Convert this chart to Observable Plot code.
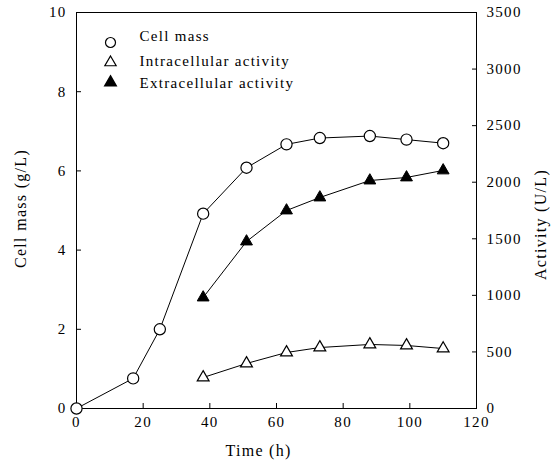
<!DOCTYPE html>
<html>
<head>
<meta charset="utf-8">
<script src="https://cdn.jsdelivr.net/npm/d3@7"></script>
<script src="https://cdn.jsdelivr.net/npm/@observablehq/plot@0.6"></script>
<style>
  html, body { margin: 0; padding: 0; background: white; }
</style>
</head>
<body>
<div id="chart"></div>
<script>
// Data
const time = [0, 17, 25, 38, 51, 63, 73, 88, 99, 110];
const cellMass = [0, 0.76, 2.0, 4.92, 6.08, 6.67, 6.83, 6.88, 6.79, 6.70]; // g/L
const actTime = [38, 51, 63, 73, 88, 99, 110];
const intraAct = [274, 398, 495, 539, 566, 557, 530];      // U/L
const extraAct = [981, 1476, 1750, 1865, 2015, 2042, 2104]; // U/L
const xTicks = [0, 20, 40, 60, 80, 100, 120];
const leftTicks = [0, 2, 4, 6, 8, 10];
const rightTicks = [0, 500, 1000, 1500, 2000, 2500, 3000, 3500];
const legendLabels = ["Cell mass", "Intracellular activity", "Extracellular activity"];

const actMax = 3500, massMax = 10;
const k = actMax / massMax; // activity units per cell-mass unit

const massData = time.map((t, i) => ({t, v: cellMass[i]}));
const intraData = actTime.map((t, i) => ({t, v: intraAct[i] / k}));
const extraData = actTime.map((t, i) => ({t, v: extraAct[i] / k}));

const font = "'Liberation Serif', 'DejaVu Serif', serif";
const rowGap = 20;
const legendTop = 30;

const chart = Plot.plot({
  width: 553,
  height: 463,
  marginLeft: 76,
  marginRight: 77,
  marginTop: 12,
  marginBottom: 55,
  style: {fontFamily: font, fontSize: "15px", background: "white", color: "black", letterSpacing: "1.3px"},
  x: {domain: [0, 120]},
  y: {domain: [0, 10]},
  marks: [
    Plot.frame({stroke: "black", strokeWidth: 1}),
    Plot.axisX({ticks: xTicks, tickSize: 5, dy: -5, tickPadding: 8, label: null, tickFormat: d => String(d)}),
    Plot.axisY({anchor: "left", ticks: leftTicks, tickSize: 5, dx: 5, tickPadding: 10, label: null, tickFormat: d => String(d)}),
    Plot.axisY(rightTicks.map(v => v / k), {anchor: "right", tickSize: 5, dx: -5, tickPadding: 10, label: null, tickFormat: d => String(Math.round(d * k))}),
    Plot.text(["Cell mass (g/L)"], {frameAnchor: "left", rotate: -90, dx: -56, dy: -2, textAnchor: "middle", lineAnchor: "middle", fontSize: 16}),
    Plot.text(["Activity (U/L)"], {frameAnchor: "right", rotate: -90, dx: 64, dy: 14, textAnchor: "middle", lineAnchor: "middle", fontSize: 16}),
    Plot.text(["Time (h)"], {frameAnchor: "bottom", dx: -18, dy: 42, textAnchor: "middle", lineAnchor: "middle", fontSize: 16}),
    // lines
    Plot.line(massData, {x: "t", y: "v", stroke: "black", strokeWidth: 1}),
    Plot.line(intraData, {x: "t", y: "v", stroke: "black", strokeWidth: 1}),
    Plot.line(extraData, {x: "t", y: "v", stroke: "black", strokeWidth: 1}),
    // points
    Plot.dot(massData, {x: "t", y: "v", r: 5.6, symbol: "circle", fill: "white", stroke: "black", strokeWidth: 1.2}),
    Plot.dot(intraData, {x: "t", y: "v", r: 4.4, symbol: "triangle", fill: "white", stroke: "black", strokeWidth: 1.2}),
    Plot.dot(extraData, {x: "t", y: "v", r: 4.4, symbol: "triangle", fill: "black", stroke: "black", strokeWidth: 1}),
    // legend
    Plot.dot([legendLabels[0]], {frameAnchor: "top-left", dx: 34, dy: legendTop, r: 5, symbol: "circle", fill: "white", stroke: "black", strokeWidth: 1.2}),
    Plot.dot([legendLabels[1]], {frameAnchor: "top-left", dx: 34, dy: legendTop + rowGap, r: 4.2, symbol: "triangle", fill: "white", stroke: "black", strokeWidth: 1.2}),
    Plot.dot([legendLabels[2]], {frameAnchor: "top-left", dx: 34, dy: legendTop + 2 * rowGap, r: 4.2, symbol: "triangle", fill: "black", stroke: "black"}),
    Plot.text([legendLabels[0]], {frameAnchor: "top-left", text: d => d, dx: 63, dy: legendTop - 6, textAnchor: "start", lineAnchor: "middle", fontSize: 15}),
    Plot.text([legendLabels[1]], {frameAnchor: "top-left", text: d => d, dx: 63, dy: legendTop + rowGap - 1, textAnchor: "start", lineAnchor: "middle", fontSize: 15}),
    Plot.text([legendLabels[2]], {frameAnchor: "top-left", text: d => d, dx: 63, dy: legendTop + 2 * rowGap + 1, textAnchor: "start", lineAnchor: "middle", fontSize: 15})
  ]
});
document.getElementById("chart").appendChild(chart);
</script>
</body>
</html>
